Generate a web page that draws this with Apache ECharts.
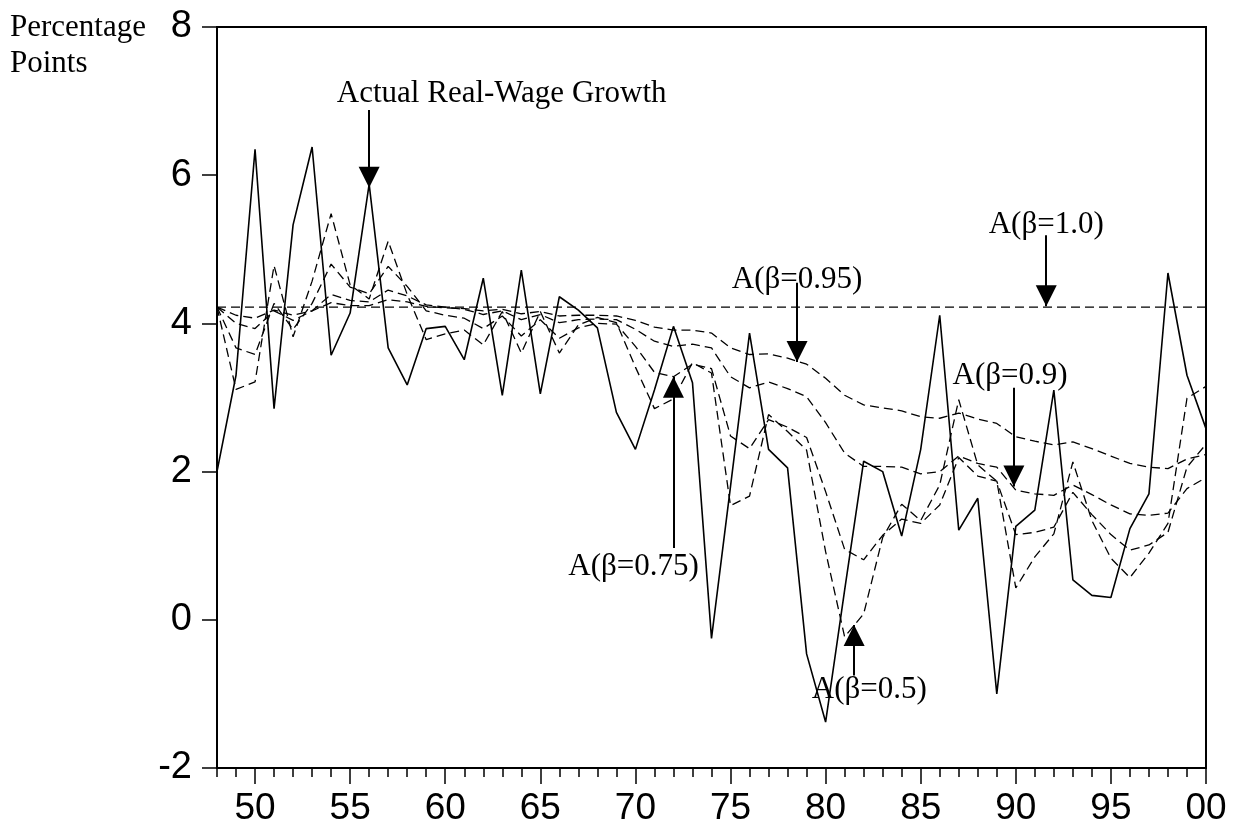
<!DOCTYPE html>
<html>
<head>
<meta charset="utf-8" />
<title>Real-wage growth</title>
<script src="https://cdn.jsdelivr.net/npm/echarts@6/dist/echarts.min.js"></script>
<style>
  html, body { margin: 0; padding: 0; background: #fff; }
  #main { width: 1234px; height: 835px; }
</style>
</head>
<body>
<div id="main"></div>
<script>
var years = [1948, 1949, 1950, 1951, 1952, 1953, 1954, 1955, 1956, 1957,
  1958, 1959, 1960, 1961, 1962, 1963, 1964, 1965, 1966, 1967,
  1968, 1969, 1970, 1971, 1972, 1973, 1974, 1975, 1976, 1977,
  1978, 1979, 1980, 1981, 1982, 1983, 1984, 1985, 1986, 1987,
  1988, 1989, 1990, 1991, 1992, 1993, 1994, 1995, 1996, 1997,
  1998, 1999, 2000];

// actual real-wage growth (solid line)
var actual = [2.00, 3.30, 6.35, 2.85, 5.33, 6.38, 3.57, 4.14, 5.88, 3.67,
  3.17, 3.93, 3.96, 3.51, 4.61, 3.03, 4.72, 3.05, 4.36, 4.18,
  3.94, 2.80, 2.30, 3.10, 3.96, 3.20, -0.25, 1.80, 3.87, 2.30,
  2.05, -0.46, -1.38, 0.40, 2.14, 2.00, 1.13, 2.30, 4.11, 1.21,
  1.64, -1.00, 1.26, 1.48, 3.10, 0.54, 0.33, 0.30, 1.23, 1.70,
  4.68, 3.30, 2.58];

var beta100 = [4.22, 4.22, 4.22, 4.22, 4.22, 4.22, 4.22, 4.22, 4.22, 4.22,
  4.22, 4.22, 4.22, 4.22, 4.22, 4.22, 4.22, 4.22, 4.22, 4.22,
  4.22, 4.22, 4.22, 4.22, 4.22, 4.22, 4.22, 4.22, 4.22, 4.22,
  4.22, 4.22, 4.22, 4.22, 4.22, 4.22, 4.22, 4.22, 4.22, 4.22,
  4.22, 4.22, 4.22, 4.22, 4.22, 4.22, 4.22, 4.22, 4.22, 4.22,
  4.22, 4.22, 4.22];

var beta95 = [4.22, 4.11, 4.07, 4.18, 4.11, 4.17, 4.28, 4.24, 4.24, 4.32,
  4.29, 4.23, 4.21, 4.20, 4.17, 4.19, 4.13, 4.16, 4.10, 4.11,
  4.11, 4.10, 4.04, 3.95, 3.91, 3.91, 3.87, 3.67, 3.58, 3.59,
  3.53, 3.45, 3.26, 3.03, 2.90, 2.86, 2.82, 2.74, 2.72, 2.79,
  2.71, 2.65, 2.47, 2.41, 2.36, 2.40, 2.31, 2.21, 2.11, 2.06,
  2.04, 2.17, 2.23];

var beta90 = [4.22, 4.00, 3.93, 4.17, 4.04, 4.17, 4.39, 4.31, 4.29, 4.45,
  4.37, 4.25, 4.22, 4.19, 4.12, 4.17, 4.05, 4.12, 4.01, 4.05,
  4.06, 4.05, 3.92, 3.76, 3.69, 3.72, 3.67, 3.28, 3.13, 3.21,
  3.12, 3.01, 2.66, 2.25, 2.07, 2.07, 2.06, 1.97, 2.00, 2.21,
  2.11, 2.06, 1.75, 1.70, 1.68, 1.82, 1.69, 1.55, 1.43, 1.41,
  1.44, 1.77, 1.92];

var beta75 = [4.22, 3.67, 3.58, 4.27, 3.92, 4.27, 4.80, 4.49, 4.40, 4.77,
  4.50, 4.17, 4.11, 4.07, 3.93, 4.10, 3.83, 4.05, 3.80, 3.94,
  4.00, 3.99, 3.69, 3.34, 3.28, 3.45, 3.39, 2.48, 2.31, 2.70,
  2.60, 2.46, 1.73, 0.95, 0.81, 1.14, 1.36, 1.30, 1.55, 2.19,
  1.94, 1.87, 1.15, 1.18, 1.25, 1.72, 1.42, 1.15, 0.94, 1.01,
  1.18, 2.06, 2.37];

var beta50 = [4.22, 3.11, 3.21, 4.78, 3.82, 4.57, 5.48, 4.52, 4.33, 5.11,
  4.39, 3.78, 3.86, 3.91, 3.71, 4.16, 3.60, 4.16, 3.60, 3.98,
  4.08, 4.01, 3.41, 2.85, 2.98, 3.47, 3.33, 1.54, 1.67, 2.77,
  2.54, 2.29, 0.92, -0.23, 0.08, 1.11, 1.56, 1.34, 1.82, 2.97,
  2.09, 1.87, 0.43, 0.85, 1.16, 2.13, 1.34, 0.83, 0.57, 0.90,
  1.30, 2.99, 3.15];

var majorYears = [1950, 1955, 1960, 1965, 1970, 1975, 1980, 1985, 1990, 1995, 2000];

// annotations: text, arrow x, arrow tail y, arrow tip y, text anchor x/y, text align
var noteText  = ['Actual Real-Wage Growth', 'A(β=1.0)', 'A(β=0.95)', 'A(β=0.9)', 'A(β=0.75)', 'A(β=0.5)'];
var noteX     = [1956.0, 1991.6, 1978.5, 1989.9, 1972.0, 1981.5];
var noteTail  = [6.88, 5.19, 4.55, 3.13, 0.97, -0.75];
var noteTip   = [5.83, 4.23, 3.48, 1.80, 3.28, -0.07];
var labelX    = [1954.3, 1991.6, 1978.5, 1989.7, 1969.9, 1982.3];
var labelY    = [7.10, 5.33, 4.59, 3.29, 0.71, -0.95];
var labelAlign = ['left', 'center', 'center', 'center', 'center', 'center'];

var myChart = echarts.init(document.getElementById('main'));

function pairs(vals) {
  return years.map(function (y, i) { return [y, vals[i]]; });
}

var dash = [9, 5];
var serif = 'Liberation Serif';
var sans = 'Liberation Sans';

function dashed(name, vals) {
  return {
    name: name,
    type: 'line',
    symbol: 'none',
    data: pairs(vals),
    lineStyle: { color: '#000', width: 1.3, type: dash },
    z: 2,
    silent: true
  };
}

var arrows = noteX.map(function (x, i) {
  return [{ coord: [x, noteTail[i]] }, { coord: [x, noteTip[i]] }];
});

var notes = noteText.map(function (t, i) {
  return {
    name: t,
    value: [labelX[i], labelY[i]],
    label: { align: labelAlign[i] }
  };
});

var seriesData = [
  {
    name: 'actual',
    type: 'line',
    symbol: 'none',
    data: pairs(actual),
    lineStyle: { color: '#000', width: 1.6 },
    z: 3,
    silent: true
  },
  Object.assign(dashed('A(β=1.0)', beta100), {
    markLine: {
      silent: true,
      animation: false,
      symbol: ['none', 'triangle'],
      symbolSize: 21,
      symbolOffset: [0, [0, 10.5]],
      label: { show: false },
      lineStyle: { color: '#000', width: 2, type: 'solid' },
      itemStyle: { color: '#000' },
      emphasis: { disabled: true },
      data: arrows
    }
  }),
  dashed('A(β=0.95)', beta95),
  dashed('A(β=0.9)', beta90),
  dashed('A(β=0.75)', beta75),
  dashed('A(β=0.5)', beta50),
  {
    name: 'notes',
    type: 'scatter',
    symbolSize: 0,
    silent: true,
    z: 5,
    data: notes,
    itemStyle: { opacity: 1 },
    label: {
      show: true,
      position: 'inside',
      formatter: '{b}',
      color: '#000',
      opacity: 1,
      textBorderWidth: 0,
      fontFamily: serif,
      fontSize: 31
    }
  }
];

var option = {
  animation: false,
  backgroundColor: '#fff',
  title: {
    text: 'Percentage\nPoints',
    left: 5,
    top: 5,
    textStyle: {
      fontFamily: serif,
      fontSize: 31,
      fontWeight: 'normal',
      color: '#000',
      lineHeight: 36
    }
  },
  grid: {
    left: 217,
    right: 28,
    top: 27,
    bottom: 67,
    show: true,
    borderColor: '#000',
    borderWidth: 2,
    containLabel: false
  },
  xAxis: [
    {
      type: 'value',
      position: 'bottom',
      min: 1948,
      max: 2000,
      interval: 1,
      axisLine: { onZero: false, lineStyle: { color: '#000', width: 2 } },
      axisTick: { length: 9, lineStyle: { color: '#000', width: 1.5 } },
      axisLabel: { show: false },
      splitLine: { show: false }
    },
    {
      type: 'value',
      position: 'bottom',
      min: 1948,
      max: 2000,
      interval: 1,
      axisLine: { show: false, onZero: false },
      axisTick: { length: 16, customValues: majorYears, lineStyle: { color: '#000', width: 1.5 } },
      axisLabel: {
        customValues: majorYears,
        margin: 22,
        color: '#000',
        fontFamily: sans,
        fontSize: 37,
        formatter: function (v) { return String(v).slice(2); }
      },
      splitLine: { show: false }
    }
  ],
  yAxis: {
    type: 'value',
    min: -2,
    max: 8,
    interval: 2,
    axisLine: { show: true, onZero: false, lineStyle: { color: '#000', width: 2 } },
    axisTick: { show: true, length: 15, lineStyle: { color: '#000', width: 1.5 } },
    axisLabel: {
      margin: 25,
      color: '#000',
      fontFamily: sans,
      fontSize: 38
    },
    splitLine: { show: false }
  },
  series: seriesData
};

myChart.setOption(option);
</script>
</body>
</html>
